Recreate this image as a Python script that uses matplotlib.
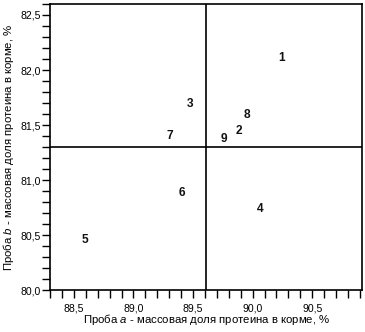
import matplotlib
matplotlib.use("Agg")
import matplotlib.pyplot as plt
from matplotlib.ticker import MultipleLocator, FuncFormatter

# Проба a / проба b — массовая доля протеина, %
labels = ["1", "2", "3", "4", "5", "6", "7", "8", "9"]
sample_a = [90.245, 89.889, 89.473, 90.06, 88.595, 89.41, 89.308, 89.951, 89.758]
sample_b = [82.114, 81.45, 81.694, 80.734, 80.457, 80.887, 81.399, 81.59, 81.37]
mean_a = 89.61
mean_b = 81.30

plt.rcParams["font.family"] = ["Liberation Sans", "DejaVu Sans"]
plt.rcParams["mathtext.fontset"] = "custom"
plt.rcParams["mathtext.it"] = "Liberation Sans:italic"
plt.rcParams["mathtext.rm"] = "Liberation Sans"

fig = plt.figure(figsize=(3.65, 3.32), dpi=100)
ax = fig.add_axes([0.137, 0.1256, 0.8556, 0.8624])

for lab, xa, yb in zip(labels, sample_a, sample_b):
    ax.text(xa, yb, lab, ha="center", va="center", fontsize=8.6,
            fontweight="bold", color="#111111")

ax.axvline(mean_a, color="black", lw=1.2)
ax.axhline(mean_b, color="black", lw=1.2)

ax.set_xlim(88.3, 90.92)
ax.set_ylim(80.0, 82.6)

comma = FuncFormatter(lambda v, pos: f"{v:.1f}".replace(".", ","))
ax.xaxis.set_major_locator(MultipleLocator(0.5))
ax.xaxis.set_minor_locator(MultipleLocator(0.1))
ax.yaxis.set_major_locator(MultipleLocator(0.5))
ax.yaxis.set_minor_locator(MultipleLocator(0.1))
ax.xaxis.set_major_formatter(comma)
ax.yaxis.set_major_formatter(comma)
ax.tick_params(which="both", direction="out", length=5.5, width=1, labelsize=7.6,
               top=False, right=False)
ax.tick_params(axis="x", pad=4)
ax.tick_params(axis="y", pad=1)
for sp in ax.spines.values():
    sp.set_linewidth(1.2)

ax.set_xlabel(r"Проба $\mathit{a}$ - массовая доля протеина в корме, %", fontsize=8.2)
ax.set_ylabel(r"Проба $\mathit{b}$ - массовая доля протеина в корме, %", fontsize=8.2)
ax.xaxis.set_label_coords(0.5, -0.077)
ax.yaxis.set_label_coords(-0.108, 0.5)

fig.savefig("out.png", dpi=100)
